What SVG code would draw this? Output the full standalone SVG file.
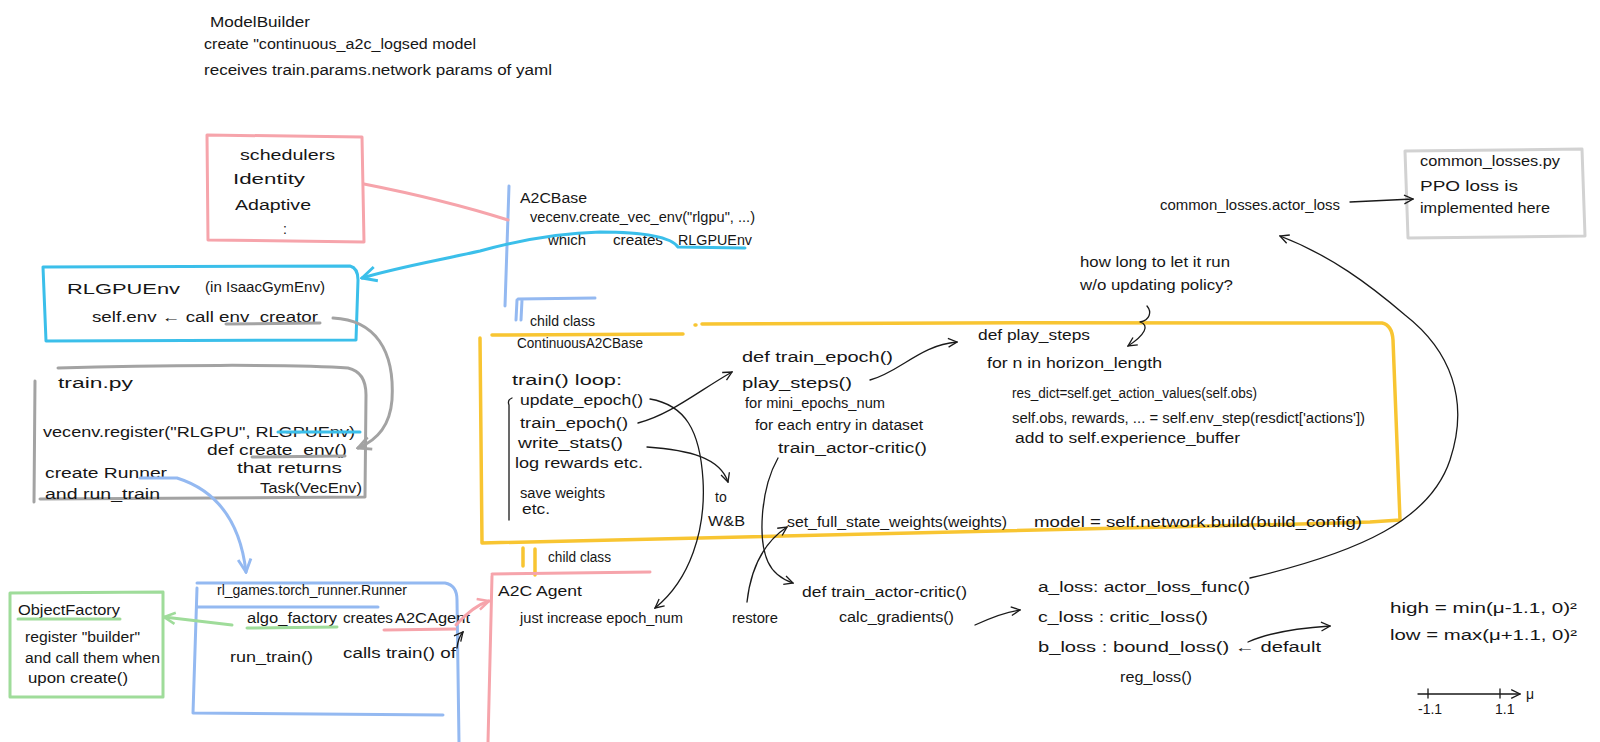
<svg xmlns="http://www.w3.org/2000/svg" width="1600" height="742" viewBox="0 0 1600 742">
<style>
text{font-family:"Liberation Sans","DejaVu Sans",sans-serif;fill:#161616;font-size:14px}
.pink{fill:none;stroke:#f6a4ab;stroke-width:3;stroke-linecap:round;stroke-linejoin:round}
.cyan{fill:none;stroke:#3bbfea;stroke-width:3;stroke-linecap:round;stroke-linejoin:round}
.blue{fill:none;stroke:#94b9f1;stroke-width:3;stroke-linecap:round;stroke-linejoin:round}
.gray{fill:none;stroke:#a3a3a3;stroke-width:3;stroke-linecap:round;stroke-linejoin:round}
.lgray{fill:none;stroke:#d2d2d2;stroke-width:3;stroke-linecap:round;stroke-linejoin:round}
.yellow{fill:none;stroke:#f8c532;stroke-width:3.5;stroke-linecap:round;stroke-linejoin:round}
.green{fill:none;stroke:#9fdc9a;stroke-width:3;stroke-linecap:round;stroke-linejoin:round}
.ink{fill:none;stroke:#1a1a1a;stroke-width:1.3;stroke-linecap:round;stroke-linejoin:round}
</style>
<defs>
<marker id="ah" viewBox="0 0 10 10" refX="9" refY="5" markerWidth="11" markerHeight="11" markerUnits="userSpaceOnUse" orient="auto"><path d="M1,1 L9,5 L1,9" fill="none" stroke="#1a1a1a" stroke-width="1.2"/></marker>
<marker id="ahc" viewBox="0 0 10 10" refX="9" refY="5" markerWidth="18" markerHeight="18" markerUnits="userSpaceOnUse" orient="auto"><path d="M1,1 L9,5 L1,9" fill="none" stroke="#3bbfea" stroke-width="1.6"/></marker>
<marker id="ahb" viewBox="0 0 10 10" refX="9" refY="5" markerWidth="16" markerHeight="16" markerUnits="userSpaceOnUse" orient="auto"><path d="M1,1 L9,5 L1,9" fill="none" stroke="#94b9f1" stroke-width="1.8"/></marker>
<marker id="ahg" viewBox="0 0 10 10" refX="9" refY="5" markerWidth="14" markerHeight="14" markerUnits="userSpaceOnUse" orient="auto"><path d="M1,1 L9,5 L1,9" fill="none" stroke="#9fdc9a" stroke-width="1.8"/></marker>
<marker id="ahp" viewBox="0 0 10 10" refX="9" refY="5" markerWidth="14" markerHeight="14" markerUnits="userSpaceOnUse" orient="auto"><path d="M1,1 L9,5 L1,9" fill="none" stroke="#f6a4ab" stroke-width="1.8"/></marker>
<marker id="ahgr" viewBox="0 0 10 10" refX="9" refY="5" markerWidth="16" markerHeight="16" markerUnits="userSpaceOnUse" orient="auto"><path d="M1,1 L9,5 L1,9" fill="none" stroke="#a3a3a3" stroke-width="1.8"/></marker>
</defs>
<rect width="1600" height="742" fill="#ffffff"/>

<g id="model-builder-note">
<text x="210" y="27" font-size="17" textLength="100" lengthAdjust="spacingAndGlyphs">ModelBuilder</text>
<text x="204" y="49" textLength="272" lengthAdjust="spacingAndGlyphs">create "continuous_a2c_logsed model</text>
<text x="204" y="75" textLength="348" lengthAdjust="spacingAndGlyphs">receives train.params.network params of yaml</text>
</g>

<g id="schedulers">
<path class="pink" d="M207,135 L362,137 L364,242 L208,240 Z"/>
<text x="240" y="160" font-size="17" textLength="95" lengthAdjust="spacingAndGlyphs">schedulers</text>
<text x="233" y="184" font-size="15" textLength="72" lengthAdjust="spacingAndGlyphs">Identity</text>
<text x="235" y="210" font-size="15" textLength="76" lengthAdjust="spacingAndGlyphs">Adaptive</text>
<text x="283" y="234" font-size="15">:</text>
</g>

<g id="a2cbase">
<path class="blue" d="M509,186 L505,306"/>
<text x="520" y="203" font-size="16" textLength="67" lengthAdjust="spacingAndGlyphs">A2CBase</text>
<text x="530" y="222" font-size="13" textLength="225" lengthAdjust="spacingAndGlyphs">vecenv.create_vec_env("rlgpu", ...)</text>
<text x="548" y="245" font-size="13" textLength="38" lengthAdjust="spacingAndGlyphs">which</text>
<text x="613" y="245" font-size="13" textLength="50" lengthAdjust="spacingAndGlyphs">creates</text>
<text x="678" y="245" font-size="14" textLength="74" lengthAdjust="spacingAndGlyphs">RLGPUEnv</text>
</g>

<g id="rlgpuenv">
<path class="cyan" d="M43,267 L350,266 Q358,268 358,280 L356,340 L46,341 Z"/>
<text x="67" y="294" font-size="28" textLength="113" lengthAdjust="spacingAndGlyphs">RLGPUEnv</text>
<text x="205" y="292" font-size="14" textLength="120" lengthAdjust="spacingAndGlyphs">(in IsaacGymEnv)</text>
<text x="92" y="322" font-size="15" textLength="226" lengthAdjust="spacingAndGlyphs">self.env ← call env_creator</text>
<path class="gray" d="M226,324 L320,323"/>
</g>

<g id="train-py">
<path class="gray" d="M58,368 C150,365 300,364 348,368 Q366,372 366,395 L365,497 L40,499"/>
<path class="gray" d="M35,381 L34,502"/>
<text x="58" y="388" font-size="15" textLength="75" lengthAdjust="spacingAndGlyphs">train.py</text>
<text x="43" y="437" font-size="15" textLength="312" lengthAdjust="spacingAndGlyphs">vecenv.register("RLGPU", RLGPUEnv)</text>
<path class="cyan" d="M278,432 L360,432" stroke-width="2"/>
<text x="207" y="455" font-size="16" textLength="140" lengthAdjust="spacingAndGlyphs">def create_env()</text>
<path class="gray" d="M252,457 L345,456" stroke-width="2"/>
<text x="237" y="473" font-size="13" textLength="105" lengthAdjust="spacingAndGlyphs">that returns</text>
<text x="260" y="493" font-size="14" textLength="102" lengthAdjust="spacingAndGlyphs">Task(VecEnv)</text>
<text x="45" y="478" font-size="15" textLength="122" lengthAdjust="spacingAndGlyphs">create Runner</text>
<text x="45" y="499" font-size="15" textLength="115" lengthAdjust="spacingAndGlyphs">and run_train</text>
</g>

<g id="child-class-1">
<path class="blue" d="M518,299 L595,298 M517,300 L516,320 M522,300 L521,320"/>
<text x="530" y="326" font-size="13" textLength="65" lengthAdjust="spacingAndGlyphs">child class</text>
</g>

<g id="continuous-a2cbase">
<path class="yellow" d="M492,335 L683,334 M695,325 L696,325 M702,324 C900,323 1200,322 1382,323 Q1392,325 1393,340 L1400,520 L1370,522 L1340,523 C1000,531 700,538 482,543 L480,338"/>
<text x="517" y="348" font-size="14" textLength="126" lengthAdjust="spacingAndGlyphs">ContinuousA2CBase</text>
<text x="512" y="385" font-size="15" textLength="110" lengthAdjust="spacingAndGlyphs">train() loop:</text>
<path class="ink" d="M512,398 Q507,400 509,405 L509,520"/>
<text x="520" y="405" font-size="15" textLength="123" lengthAdjust="spacingAndGlyphs">update_epoch()</text>
<text x="520" y="428" font-size="15" textLength="108" lengthAdjust="spacingAndGlyphs">train_epoch()</text>
<text x="518" y="448" font-size="15" textLength="105" lengthAdjust="spacingAndGlyphs">write_stats()</text>
<text x="515" y="468" font-size="15" textLength="128" lengthAdjust="spacingAndGlyphs">log rewards etc.</text>
<text x="520" y="498" font-size="14" textLength="85" lengthAdjust="spacingAndGlyphs">save weights</text>
<text x="522" y="514" font-size="13" textLength="28" lengthAdjust="spacingAndGlyphs">etc.</text>
<text x="715" y="502" font-size="14">to</text>
<text x="708" y="526" font-size="16" textLength="37" lengthAdjust="spacingAndGlyphs">W&amp;B</text>
<text x="742" y="362" font-size="15" textLength="151" lengthAdjust="spacingAndGlyphs">def train_epoch()</text>
<text x="742" y="388" font-size="16" textLength="110" lengthAdjust="spacingAndGlyphs">play_steps()</text>
<text x="745" y="408" font-size="12" textLength="140" lengthAdjust="spacingAndGlyphs">for mini_epochs_num</text>
<text x="755" y="430" font-size="12" textLength="168" lengthAdjust="spacingAndGlyphs">for each entry in dataset</text>
<text x="778" y="453" font-size="13" textLength="149" lengthAdjust="spacingAndGlyphs">train_actor-critic()</text>
<text x="978" y="340" font-size="15" textLength="112" lengthAdjust="spacingAndGlyphs">def play_steps</text>
<text x="987" y="368" font-size="15" textLength="175" lengthAdjust="spacingAndGlyphs">for n in horizon_length</text>
<text x="1012" y="398" font-size="13" textLength="245" lengthAdjust="spacingAndGlyphs">res_dict=self.get_action_values(self.obs)</text>
<text x="1012" y="423" font-size="13" textLength="353" lengthAdjust="spacingAndGlyphs">self.obs, rewards, ... = self.env_step(resdict['actions'])</text>
<text x="1015" y="443" font-size="13" textLength="225" lengthAdjust="spacingAndGlyphs">add to self.experience_buffer</text>
<text x="787" y="527" font-size="13" textLength="220" lengthAdjust="spacingAndGlyphs">set_full_state_weights(weights)</text>
<text x="1034" y="527" font-size="14" textLength="328" lengthAdjust="spacingAndGlyphs">model = self.network.build(build_config)</text>
</g>

<g id="policy-note">
<text x="1080" y="267" font-size="13" textLength="150" lengthAdjust="spacingAndGlyphs">how long to let it run</text>
<text x="1080" y="290" font-size="13" textLength="153" lengthAdjust="spacingAndGlyphs">w/o updating policy?</text>
</g>

<g id="child-class-2">
<path class="yellow" d="M523,548 L523,566 M535,549 L535,575"/>
<text x="548" y="562" font-size="13" textLength="63" lengthAdjust="spacingAndGlyphs">child class</text>
</g>

<g id="a2cagent">
<path class="pink" d="M492,574 L650,572 M492,576 L488,742"/>
<text x="498" y="596" font-size="16" textLength="84" lengthAdjust="spacingAndGlyphs">A2C Agent</text>
<text x="520" y="623" font-size="13" textLength="163" lengthAdjust="spacingAndGlyphs">just increase epoch_num</text>
<text x="732" y="623" font-size="13" textLength="46" lengthAdjust="spacingAndGlyphs">restore</text>
<text x="802" y="597" font-size="14" textLength="165" lengthAdjust="spacingAndGlyphs">def train_actor-critic()</text>
<text x="839" y="622" font-size="14" textLength="115" lengthAdjust="spacingAndGlyphs">calc_gradients()</text>
</g>

<g id="losses">
<text x="1038" y="592" font-size="14" textLength="212" lengthAdjust="spacingAndGlyphs">a_loss:   actor_loss_func()</text>
<text x="1038" y="622" font-size="14" textLength="170" lengthAdjust="spacingAndGlyphs">c_loss : critic_loss()</text>
<text x="1038" y="652" font-size="14" textLength="283" lengthAdjust="spacingAndGlyphs">b_loss : bound_loss() ← default</text>
<text x="1120" y="682" font-size="14" textLength="72" lengthAdjust="spacingAndGlyphs">reg_loss()</text>
</g>

<g id="bound-formula">
<text x="1390" y="613" font-size="15" textLength="187" lengthAdjust="spacingAndGlyphs">high =  min(μ-1.1, 0)²</text>
<text x="1390" y="640" font-size="15" textLength="187" lengthAdjust="spacingAndGlyphs">low =  max(μ+1.1, 0)²</text>
<path class="ink" d="M1418,694 L1520,694" marker-end="url(#ah)"/>
<path class="ink" d="M1428,689 L1428,698 M1500,689 L1500,698"/>
<text x="1526" y="699" font-size="14">μ</text>
<text x="1418" y="714" font-size="8">-1.1</text>
<text x="1495" y="714" font-size="8">1.1</text>
</g>

<g id="common-losses">
<path class="lgray" d="M1405,151 L1582,149 L1585,236 L1408,238 Z"/>
<text x="1420" y="166" font-size="13" textLength="140" lengthAdjust="spacingAndGlyphs">common_losses.py</text>
<text x="1420" y="191" font-size="15" textLength="98" lengthAdjust="spacingAndGlyphs">PPO loss is</text>
<text x="1420" y="213" font-size="13" textLength="130" lengthAdjust="spacingAndGlyphs">implemented here</text>
<text x="1160" y="210" font-size="12" textLength="180" lengthAdjust="spacingAndGlyphs">common_losses.actor_loss</text>
</g>

<g id="object-factory">
<path class="green" d="M10,593 L163,592 L163,697 L10,697 Z"/>
<text x="18" y="615" font-size="14" textLength="102" lengthAdjust="spacingAndGlyphs">ObjectFactory</text>
<path class="green" d="M18,619 L120,619" stroke-width="2"/>
<text x="25" y="642" font-size="13" textLength="115" lengthAdjust="spacingAndGlyphs">register "builder"</text>
<text x="25" y="663" font-size="13" textLength="135" lengthAdjust="spacingAndGlyphs">and call them when</text>
<text x="28" y="683" font-size="13" textLength="100" lengthAdjust="spacingAndGlyphs">upon create()</text>
</g>

<g id="runner">
<path class="blue" d="M197,583 L445,583 Q457,585 457,600 L459,742 M197,588 L193,713 L443,715 M197,607 L378,607"/>
<text x="217" y="595" font-size="13" textLength="190" lengthAdjust="spacingAndGlyphs">rl_games.torch_runner.Runner</text>
<text x="247" y="623" font-size="14" textLength="90" lengthAdjust="spacingAndGlyphs">algo_factory</text>
<text x="343" y="623" font-size="14" textLength="50" lengthAdjust="spacingAndGlyphs">creates</text>
<text x="395" y="623" font-size="17" textLength="75" lengthAdjust="spacingAndGlyphs">A2CAgent</text>
<path class="green" d="M247,628 L337,627" stroke-width="2"/>
<path class="pink" d="M384,630 L455,629" stroke-width="2"/>
<text x="230" y="662" font-size="14" textLength="83" lengthAdjust="spacingAndGlyphs">run_train()</text>
<text x="343" y="658" font-size="13" textLength="113" lengthAdjust="spacingAndGlyphs">calls  train() of</text>
</g>

<g id="connectors">
<path class="pink" d="M364,184 C420,195 470,208 508,220"/>
<path class="cyan" d="M745,248 L678,247 C670,236 640,232 600,232 C560,233 520,240 480,251 C430,262 395,268 362,278" marker-end="url(#ahc)"/>
<path class="gray" d="M333,318 C375,320 395,350 392,400 C390,425 378,440 358,448" marker-end="url(#ahgr)"/>
<path class="blue" d="M140,478 L177,478 C215,490 240,520 246,572" marker-end="url(#ahb)"/>
<path class="green" d="M232,625 L164,617" marker-end="url(#ahg)"/>
<path class="pink" d="M456,625 C465,615 476,605 489,601" marker-end="url(#ahp)"/>
<path class="ink" d="M457,648 Q458,638 463,632" marker-end="url(#ah)"/>
<path class="ink" d="M650,399 C685,405 700,430 703,480 C706,530 690,580 655,608" marker-end="url(#ah)"/>
<path class="ink" d="M638,423 C670,415 700,390 732,372" marker-end="url(#ah)"/>
<path class="ink" d="M647,447 C690,450 720,458 728,482" marker-end="url(#ah)"/>
<path class="ink" d="M870,380 C900,372 920,345 957,342" marker-end="url(#ah)"/>
<path class="ink" d="M1147,306 C1152,312 1150,320 1140,322 C1150,325 1145,335 1128,346" marker-end="url(#ah)"/>
<path class="ink" d="M778,458 C760,490 758,540 768,562 C774,575 784,580 793,583" marker-end="url(#ah)"/>
<path class="ink" d="M747,602 C750,575 760,545 787,527" marker-end="url(#ah)"/>
<path class="ink" d="M975,625 C990,618 1005,612 1020,610" marker-end="url(#ah)"/>
<path class="ink" d="M1248,642 C1270,632 1300,628 1330,626" marker-end="url(#ah)"/>
<path class="ink" d="M1350,202 L1413,199" marker-end="url(#ah)"/>
<path class="ink" d="M1250,578 C1360,552 1430,520 1450,460 C1470,400 1450,350 1405,315 C1370,285 1330,255 1280,236" marker-end="url(#ah)"/>
</g>
</svg>
